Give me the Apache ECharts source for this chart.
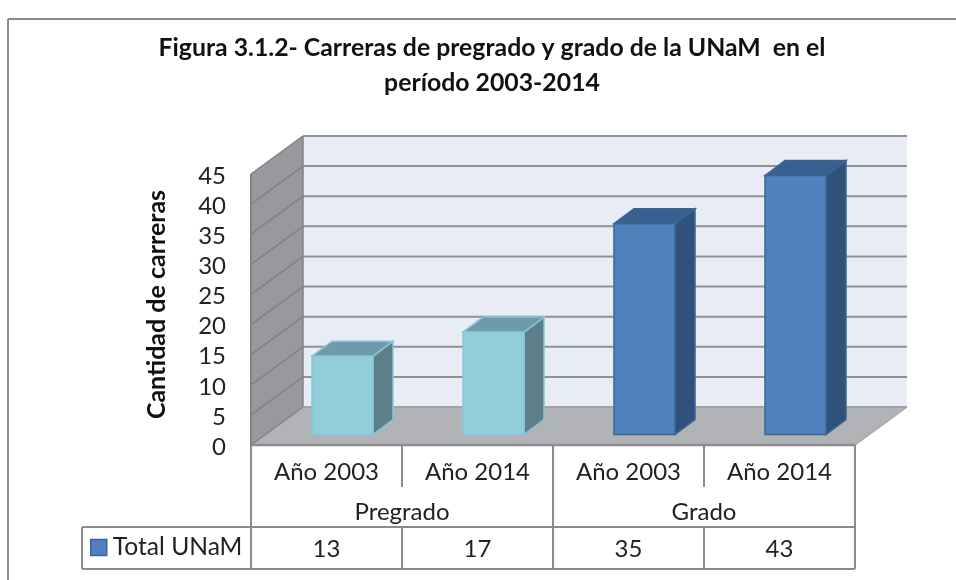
<!DOCTYPE html>
<html>
<head>
<meta charset="utf-8">
<style>html,body{margin:0;padding:0;background:#fff}#c{width:956px;height:580px}</style>
<script src="https://cdn.jsdelivr.net/npm/echarts@6/dist/echarts.min.js"></script>
</head>
<body>
<div id="c"></div>
<script>
const titleText = 'Figura 3.1.2- Carreras de pregrado y grado de la UNaM  en el\nperíodo 2003-2014';
const yearLabels = ['Año 2003', 'Año 2014', 'Año 2003', 'Año 2014'];
const groupLabels = ['Pregrado', 'Grado'];
const totalUNaM = [13, 17, 35, 43];
const yTicks = [0, 5, 10, 15, 20, 25, 30, 35, 40, 45];
const seriesName = 'Total UNaM';
const yName = 'Cantidad de carreras';

const FONT = 'Lato';
const LINE = '#8c8c8c';
const DEPTH = [52, -38];
const BAR_SHIFT = [16, -10.5];
const BAR_W = 61;
const BAR_D = [20, -15];
const barStyles = [
  { front: '#92CDDC', stroke: '#86C6D8', top: '#6F9AA8', side: '#5E7F8A' },
  { front: '#92CDDC', stroke: '#86C6D8', top: '#6F9AA8', side: '#5E7F8A' },
  { front: '#4F81BD', stroke: '#3C6595', top: '#3A608F', side: '#30527A' },
  { front: '#4F81BD', stroke: '#3C6595', top: '#3A608F', side: '#30527A' }
];

function poly(points, fill, stroke, lw) {
  return { type: 'polygon', shape: { points }, style: { fill, stroke: stroke || null, lineWidth: lw || 0 } };
}
function seg(x1, y1, x2, y2, stroke, lw) {
  return { type: 'line', shape: { x1, y1, x2, y2 }, style: { stroke: stroke || LINE, lineWidth: lw || 2 } };
}

function renderChrome(params, api) {
  const cs = params.coordSys;
  const L = cs.x, R = cs.x + cs.width, B = cs.y + cs.height, T = cs.y;
  const dx = DEPTH[0], dy = DEPTH[1];
  const band = cs.width / yearLabels.length;
  const kids = [];
  kids.push(poly([[L + dx, T + dy], [R + dx, T + dy], [R + dx, B + dy], [L + dx, B + dy]], '#E8ECF5'));
  kids.push(poly([[L, T], [L + dx, T + dy], [L + dx, B + dy], [L, B]], '#97999C'));
  kids.push(poly([[L, B], [L + dx, B + dy], [R + dx, B + dy], [R, B]], '#B1B3B6'));
  yTicks.forEach(function (t) {
    const y = api.coord([0, t])[1];
    if (t > 0) kids.push(seg(L + dx, y + dy, R + dx, y + dy, '#919191', 2));
    kids.push(seg(L, y, L + dx, y + dy, '#808184', 1.5));
  });
  kids.push(seg(L + dx, T + dy, L + dx, B + dy, '#828385', 1.5));
  kids.push(seg(L, T, L, B, '#828385', 2));
  kids.push(seg(L + dx, B + dy, R + dx, B + dy, '#A0A2A5', 2));
  kids.push(seg(R, B, R + dx, B + dy, '#A8A8A8', 1.5));
  const rowY = 527, endY = 569, tickEnd = 487, legX = 82;
  kids.push(seg(L, B, R, B, LINE, 2.5));
  kids.push(seg(legX, rowY, R, rowY));
  kids.push(seg(legX, endY, R, endY));
  kids.push(seg(legX, rowY, legX, endY));
  [0, 2, 4].forEach(function (i) { kids.push(seg(L + i * band, B, L + i * band, endY)); });
  [1, 3].forEach(function (i) {
    kids.push(seg(L + i * band, B, L + i * band, tickEnd));
    kids.push(seg(L + i * band, rowY, L + i * band, endY));
  });
  return { type: 'group', children: kids };
}

function renderBar(params, api) {
  const i = api.value(0), v = api.value(1);
  const c = api.coord([i, v]), c0 = api.coord([i, 0]);
  const s = barStyles[i];
  const x0 = c[0] + BAR_SHIFT[0] - BAR_W / 2, x1 = x0 + BAR_W;
  const yT = c[1] + BAR_SHIFT[1], yB = c0[1] + BAR_SHIFT[1];
  const dx = BAR_D[0], dy = BAR_D[1];
  return { type: 'group', children: [
    poly([[x1, yT], [x1 + dx, yT + dy], [x1 + dx, yB + dy], [x1, yB]], s.side, s.stroke, 1.5),
    poly([[x0, yT], [x0 + dx, yT + dy], [x1 + dx, yT + dy], [x1, yT]], s.top, s.stroke, 1.5),
    poly([[x0, yT], [x1, yT], [x1, yB], [x0, yB]], s.front, s.stroke, 1.5)
  ] };
}

const chart = echarts.init(document.getElementById('c'), null, { renderer: 'canvas' });
chart.setOption({
  animation: false,
  backgroundColor: '#fff',
  textStyle: { fontFamily: FONT },
  title: {
    text: titleText, left: 487, top: 26, textAlign: 'center',
    textStyle: { fontFamily: FONT, fontWeight: 'bold', fontSize: 24.8, lineHeight: 35, color: '#111' }
  },
  legend: {
    left: 90, top: 535, padding: 0, itemWidth: 16, itemHeight: 16, itemGap: 0,
    data: [{ name: seriesName, icon: 'rect', itemStyle: { color: '#4F81BD', borderColor: '#3C6595', borderWidth: 1.5 } }],
    textStyle: { fontFamily: FONT, fontSize: 24.6, color: '#222', padding: [0, 0, 0, 1] }
  },
  grid: { left: 251, right: 101, top: 174, bottom: 135 },
  xAxis: [
    { type: 'category', data: yearLabels, axisLine: { show: false }, axisTick: { show: false },
      axisLabel: { interval: 0, margin: 15, fontFamily: FONT, fontSize: 24, color: '#222' } },
    { type: 'category', position: 'bottom', offset: 40, data: groupLabels, axisLine: { show: false }, axisTick: { show: false },
      axisLabel: { interval: 0, margin: 15, fontFamily: FONT, fontSize: 24, color: '#222' } },
    { type: 'category', position: 'bottom', offset: 77, data: totalUNaM.map(String), axisLine: { show: false }, axisTick: { show: false },
      axisLabel: { interval: 0, margin: 15, fontFamily: FONT, fontSize: 24, color: '#222' } }
  ],
  yAxis: {
    type: 'value', min: 0, max: 45, interval: 5,
    name: yName, nameLocation: 'middle', nameRotate: 90, nameGap: 82,
    nameTextStyle: { fontFamily: FONT, fontWeight: 'bold', fontSize: 25, color: '#111', padding: [0, 0, 0, 10] },
    axisLine: { show: false }, axisTick: { show: false }, splitLine: { show: false },
    axisLabel: { margin: 25, fontFamily: FONT, fontSize: 24, color: '#222', verticalAlign: 'top', lineHeight: 4 }
  },
  series: [
    { type: 'custom', name: 'chrome', silent: true, z: 1, data: [[0, 0]], renderItem: renderChrome, clip: false, legendHoverLink: false },
    { type: 'custom', name: seriesName, z: 2, itemStyle: { color: '#4F81BD' },
      encode: { x: 0, y: 1 }, data: totalUNaM.map(function (v, i) { return [i, v]; }), renderItem: renderBar, clip: false }
  ],
  graphic: [
    { type: 'line', silent: true, shape: { x1: 8, y1: 19, x2: 956, y2: 19 }, style: { stroke: '#8c8c8c', lineWidth: 2 } },
    { type: 'line', silent: true, shape: { x1: 8, y1: 19, x2: 8, y2: 580 }, style: { stroke: '#8c8c8c', lineWidth: 2 } }
  ]
});
</script>
</body>
</html>
